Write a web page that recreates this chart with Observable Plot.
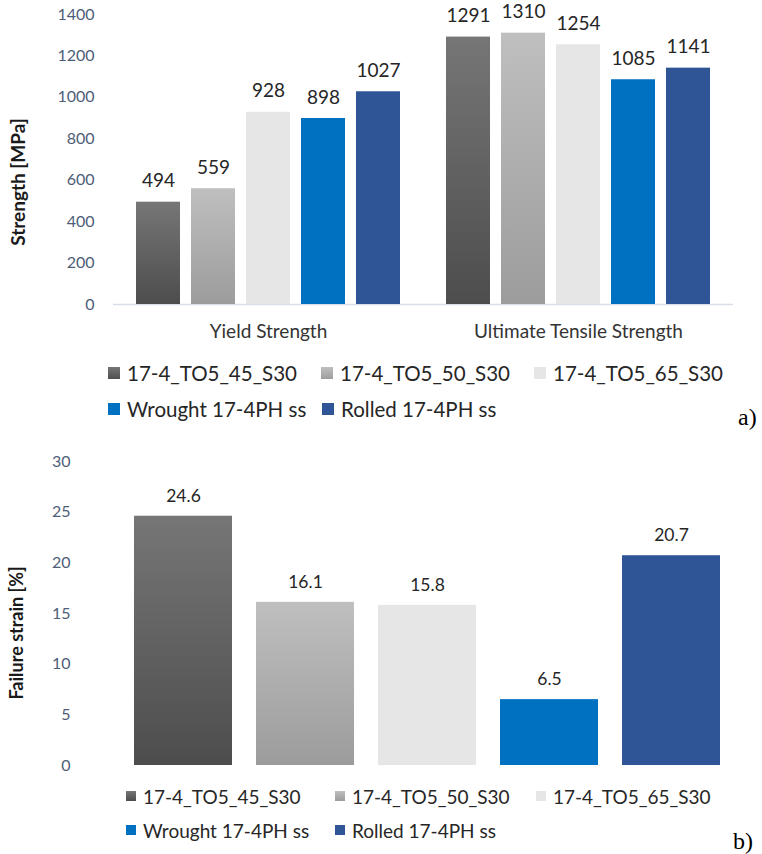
<!DOCTYPE html>
<html>
<head>
<meta charset="utf-8">
<script src="https://cdn.jsdelivr.net/npm/d3@7"></script>
<script src="https://cdn.jsdelivr.net/npm/@observablehq/plot@0.6"></script>
<style>
  html, body { margin: 0; padding: 0; background: #fff; }
  #root { position: relative; width: 762px; height: 854px; overflow: hidden; font-family: Lato, "Open Sans", sans-serif; }
  .title { position: absolute; transform: translate(-50%, -50%) rotate(-90deg); white-space: nowrap; font-weight: bold; color: #1a1a1a; }
  .leg { position: absolute; display: flex; align-items: center; white-space: nowrap; color: #262626; }
  .panel { position: absolute; font-family: "Liberation Serif", "Times New Roman", serif; color: #000; }
</style>
</head>
<body>
<svg width="0" height="0" style="position:absolute">
  <defs>
    <linearGradient id="g45" x1="0" y1="0" x2="0" y2="1">
      <stop offset="0" stop-color="#767676"/>
      <stop offset="1" stop-color="#4d4d4d"/>
    </linearGradient>
    <linearGradient id="g50" x1="0" y1="0" x2="0" y2="1">
      <stop offset="0" stop-color="#bfbfbf"/>
      <stop offset="1" stop-color="#9c9c9c"/>
    </linearGradient>
  </defs>
</svg>
<div id="root"></div>
<script>
// ---- data ----
const categories = ["Yield Strength", "Ultimate Tensile Strength"];
const series = ["17-4_TO5_45_S30", "17-4_TO5_50_S30", "17-4_TO5_65_S30", "Wrought 17-4PH ss", "Rolled 17-4PH ss"];
const yieldStrength = [494, 559, 928, 898, 1027];
const ultimateStrength = [1291, 1310, 1254, 1085, 1141];
const failureStrain = [24.6, 16.1, 15.8, 6.5, 20.7];
const strengthTicks = [0, 200, 400, 600, 800, 1000, 1200, 1400];
const strainTicks = [0, 5, 10, 15, 20, 25, 30];
const strengthTitle = "Strength [MPa]";
const strainTitle = "Failure strain [%]";

// ---- styles ----
const fills = ["url(#g45)", "url(#g50)", "#E7E6E6", "#0070C0", "#2F5597"];
const tickColor = "#4E5D78";
const labelColor = "#262626";

const root = document.getElementById("root");

// ---- panel a ----
const dataA = categories.flatMap((c, i) =>
  series.map((s, j) => ({category: c, series: s, value: (i === 0 ? yieldStrength : ultimateStrength)[j]})));

const chartA = Plot.plot({
  width: 762, height: 350,
  marginLeft: 113, marginRight: 29, marginTop: 14, marginBottom: 46,
  style: {fontFamily: "Lato, sans-serif", fontSize: "16px", background: "transparent"},
  fx: {domain: categories, padding: 0, label: null},
  x: {domain: series, paddingInner: 0.2, paddingOuter: 0.4, axis: null},
  y: {domain: [0, 1400], label: null},
  color: {domain: series, range: fills},
  marks: [
    Plot.ruleY([0], {stroke: "#D9DEE6", strokeWidth: 1.5}),
    Plot.barY(dataA, {fx: "category", x: "series", y: "value", fill: "series"}),
    Plot.text(dataA, {fx: "category", x: "series", y: "value", text: d => String(d.value), dy: -21, fontSize: 19, fill: labelColor}),
    Plot.axisY({ticks: strengthTicks, tickFormat: d => String(d), tickSize: 0, tickPadding: 19, fontSize: 16, color: tickColor, label: null}),
    Plot.axisFx({anchor: "bottom", tickSize: 0, tickPadding: 20, fontSize: 19, color: "#333333", label: null})
  ]
});
chartA.style.position = "absolute";
chartA.style.left = "0px";
chartA.style.top = "0px";
root.appendChild(chartA);

// ---- panel b ----
const dataB = series.map((s, j) => ({series: s, value: failureStrain[j]}));
const chartB = Plot.plot({
  width: 762, height: 340,
  marginLeft: 122, marginRight: 30, marginTop: 21, marginBottom: 15,
  style: {fontFamily: "Lato, sans-serif", fontSize: "16px", background: "transparent"},
  x: {domain: series, paddingInner: 0.193, paddingOuter: 0.0965, axis: null},
  y: {domain: [0, 30], label: null},
  color: {domain: series, range: fills},
  marks: [
    Plot.barY(dataB, {x: "series", y: "value", fill: "series"}),
    Plot.text(dataB, {x: "series", y: "value", text: d => d.value.toFixed(1), dy: -20, fontSize: 17.5, fill: labelColor}),
    Plot.axisY({ticks: strainTicks, tickFormat: d => String(d), tickSize: 0, tickPadding: 52, fontSize: 16, color: tickColor, label: null})
  ]
});
chartB.style.position = "absolute";
chartB.style.left = "0px";
chartB.style.top = "440px";
root.appendChild(chartB);

// ---- axis titles ----
function addTitle(text, cx, cy, size) {
  const d = document.createElement("div");
  d.className = "title";
  d.style.left = cx + "px";
  d.style.top = cy + "px";
  d.style.fontSize = size + "px";
  d.textContent = text;
  root.appendChild(d);
}
addTitle(strengthTitle, 17, 182, 19);
addTitle(strainTitle, 16, 633, 18);

// ---- legends ----
function addLegend(layout, fontSize, sq) {
  layout.forEach(([j, textX, cy]) => {
    const d = document.createElement("div");
    d.className = "leg";
    d.style.left = (textX - sq - 7) + "px";
    d.style.top = (cy - 15) + "px";
    d.style.height = "30px";
    d.style.fontSize = fontSize + "px";
    const ns = "http://www.w3.org/2000/svg";
    const s = document.createElementNS(ns, "svg");
    s.setAttribute("width", sq);
    s.setAttribute("height", sq);
    s.style.marginRight = "7px";
    s.style.flex = "none";
    const r = document.createElementNS(ns, "rect");
    r.setAttribute("width", sq);
    r.setAttribute("height", sq);
    r.setAttribute("fill", fills[j]);
    s.appendChild(r);
    d.appendChild(s);
    const t = document.createElement("span");
    t.textContent = series[j];
    d.appendChild(t);
    root.appendChild(d);
  });
}
// [series index, text left x, row center y]
addLegend([[0, 127, 373], [1, 340, 373], [2, 553, 373], [3, 127, 409], [4, 341, 409]], 20.5, 12.5);
addLegend([[0, 143, 796], [1, 352, 796], [2, 553, 796], [3, 143, 830], [4, 352, 830]], 19, 10);

// ---- panel letters ----
function addPanel(text, x, cy) {
  const d = document.createElement("div");
  d.className = "panel";
  d.style.left = x + "px";
  d.style.top = (cy - 14) + "px";
  d.style.fontSize = "24px";
  d.style.lineHeight = "28px";
  d.textContent = text;
  root.appendChild(d);
}
addPanel("a)", 738, 417);
addPanel("b)", 733, 841);
</script>
</body>
</html>
